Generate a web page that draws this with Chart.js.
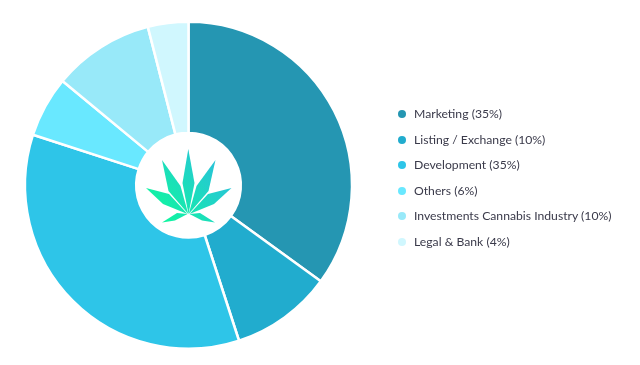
<!DOCTYPE html>
<html lang="en">

<head>
    <meta charset="UTF-8">
    <title>Token allocation</title>
    <script src="https://cdn.jsdelivr.net/npm/chart.js"></script>
    <style>
        body { margin: 0; background: #ffffff; }
        .grafico { position: relative; width: 640px; height: 365px; overflow: hidden; }
        .logo { position: absolute; left: 0; top: 0; }
        .legenda { position: absolute; left: 398px; top: 101px; margin: 0; padding: 0; list-style: none; font: 12.2px Lato, sans-serif; color: #3a3a4a; }
        .legenda li { height: 25.6px; line-height: 25.6px; white-space: nowrap; }
        .legenda i { display: inline-block; width: 8px; height: 8px; border-radius: 50%; margin-right: 8px; }
    </style>
</head>

<body>
    <div class="grafico">
        <canvas id="myChartCanvas" width="640" height="365"></canvas>
        <svg class="logo" width="640" height="365">
            <defs>
                <linearGradient id="folha" gradientUnits="userSpaceOnUse" x1="150" y1="222" x2="228" y2="160">
                    <stop offset="0" stop-color="#0cfd98" />
                    <stop offset="1" stop-color="#2cbce0" />
                </linearGradient>
            </defs>
            <g fill="url(#folha)">
                <path d="M188.3 149 L194.5 183 L188.5 214 L182.5 183 Z" />
                <path d="M162 160 L180.5 186 L188.3 214 L168.5 191 Z" />
                <path d="M215.5 160 L208.5 191 L188.7 214 L196.5 186 Z" />
                <path d="M146 188 L169 194 L187.5 214 L163 204 Z" />
                <path d="M231.5 188 L214 204 L189.5 214 L208 194 Z" />
                <path d="M162 222.5 L177 213 L187.5 214 L175 220.5 Z" />
                <path d="M215 222.5 L202 220.5 L189.5 214 L200 213 Z" />
            </g>
        </svg>
        <ul class="legenda" id="legenda"></ul>
    </div>
</body>

<script>

    const categorias = ['Marketing', 'Listing / Exchange', 'Development', 'Others', 'Investments Cannabis Industry', 'Legal & Bank'];
    const valores = [35, 10, 35, 6, 10, 4];
    const cores = ['#2596b2', '#21acce', '#2ec5e8', '#69e8ff', '#98e9f9', '#d0f7fe'];

    // legenda em html, montada a partir dos mesmos arrays
    categorias.forEach((nome, i) => {
        document.getElementById('legenda').innerHTML += `<li><i style="background: ${cores[i]}"></i>${nome.replace('&', '&amp;')} (${valores[i]}%)</li>`;
    });

    new Chart(document.getElementById('myChartCanvas'), {
        type: 'doughnut',
        data: {
            labels: categorias,
            datasets: [{
                data: valores,
                backgroundColor: cores,
                borderColor: '#ffffff',
                borderWidth: 2.5
            }]
        },
        options: {
            responsive: false,
            animation: false,
            cutout: '32%',
            layout: { padding: { left: 23.5, top: 20.5, right: 286.5, bottom: 15 } },
            plugins: {
                legend: { display: false },
                tooltip: { enabled: false }
            }
        }
    });

</script>

</html>
